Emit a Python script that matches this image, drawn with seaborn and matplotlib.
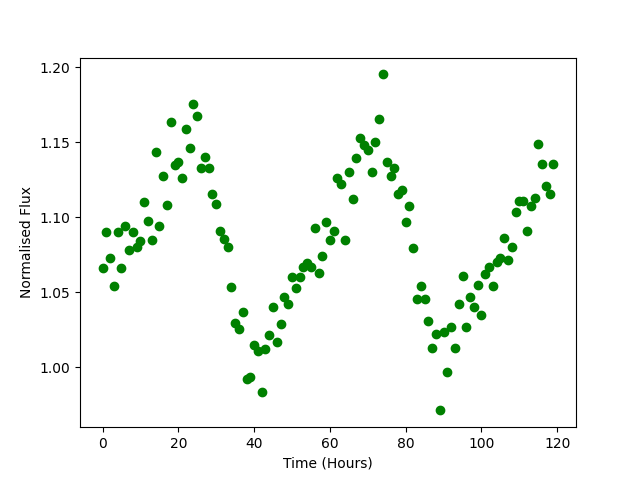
import numpy as np
import pandas as pd
import matplotlib
matplotlib.use("Agg")
import matplotlib.pyplot as plt
import seaborn as sns

time_hours = list(range(120))
flux = [
    1.0665, 1.0900, 1.0727, 1.0545, 1.0905, 1.0665, 1.0945, 1.0785, 1.0900, 1.0802,
    1.0842, 1.1105, 1.0978, 1.0851, 1.1438, 1.0945, 1.1278, 1.1080, 1.1638, 1.1349,
    1.1367, 1.1265, 1.1591, 1.1460, 1.1758, 1.1678, 1.1331, 1.1405, 1.1327, 1.1153,
    1.1091, 1.0907, 1.0853, 1.0805, 1.0533, 1.0293, 1.0258, 1.0367, 0.9920, 0.9933,
    1.0149, 1.0111, 0.9833, 1.0120, 1.0213, 1.0400, 1.0171, 1.0287, 1.0469, 1.0425,
    1.0605, 1.0531, 1.0605, 1.0671, 1.0695, 1.0671, 1.0931, 1.0631, 1.0745, 1.0971,
    1.0851, 1.0907, 1.1260, 1.1225, 1.0847, 1.1305, 1.1125, 1.1393, 1.1531, 1.1480,
    1.1447, 1.1305, 1.1500, 1.1653, 1.1953, 1.1367, 1.1273, 1.1327, 1.1153, 1.1180,
    1.0971, 1.1073, 1.0793, 1.0453, 1.0545, 1.0453, 1.0307, 1.0131, 1.0225, 0.9713,
    1.0238, 0.9967, 1.0267, 1.0131, 1.0425, 1.0611, 1.0267, 1.0471, 1.0405, 1.0549,
    1.0351, 1.0620, 1.0671, 1.0545, 1.0700, 1.0731, 1.0865, 1.0718, 1.0805, 1.1033,
    1.1111, 1.1111, 1.0907, 1.1073, 1.1127, 1.1491, 1.1358, 1.1211, 1.1158, 1.1358,
]

df = pd.DataFrame({"Time (Hours)": time_hours, "Normalised Flux": flux})

fig, ax = plt.subplots(figsize=(6.4, 4.8), dpi=100)
sns.scatterplot(data=df, x="Time (Hours)", y="Normalised Flux", ax=ax,
                color="green", edgecolor="green", linewidth=1, s=36)
ax.set_xlabel("Time (Hours)")
ax.set_ylabel("Normalised Flux")
fig.savefig("out.png", dpi=100)
